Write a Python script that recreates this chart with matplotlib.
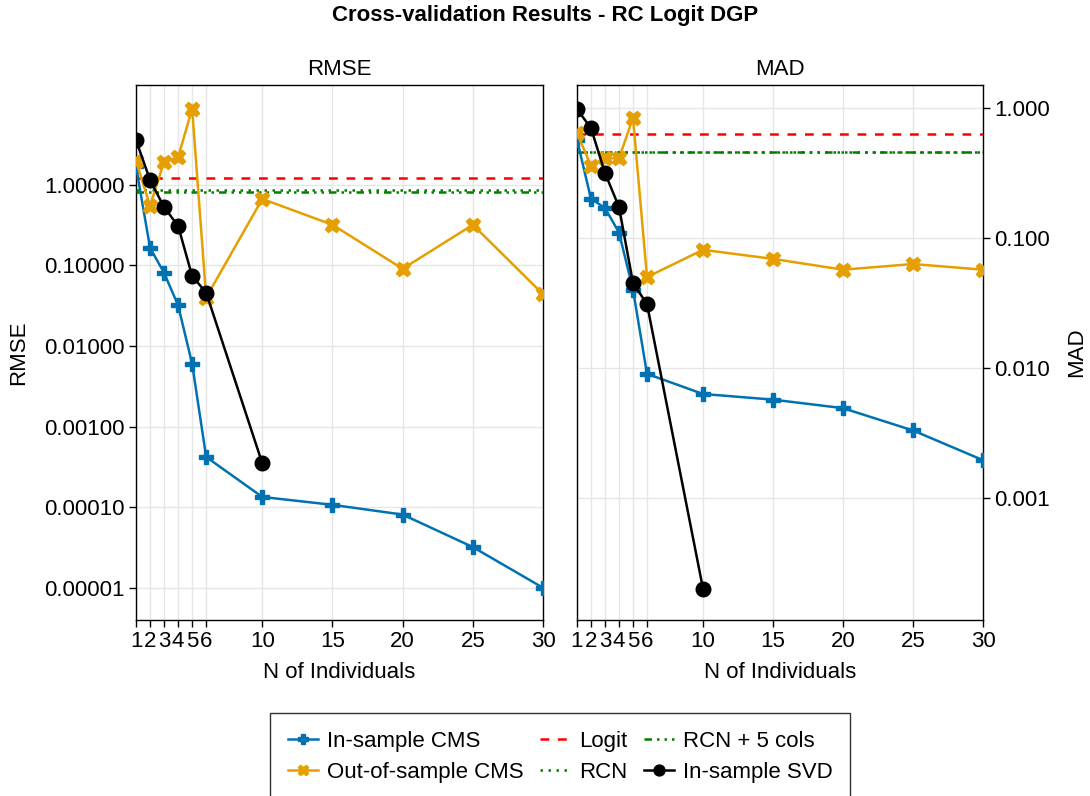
import matplotlib
matplotlib.use("Agg")
import matplotlib.pyplot as plt
from matplotlib.ticker import FixedLocator, FixedFormatter, NullLocator

plt.rcParams['font.family'] = ['Liberation Sans', 'DejaVu Sans']

# ---- data ----
n_ind = [1, 2, 3, 4, 5, 6, 10, 15, 20, 25, 30]
n_svd = [1, 2, 3, 4, 5, 6, 10]

rmse_in_cms = [1.7, 0.166, 0.081, 0.032, 0.006, 0.00042, 0.000134, 0.000107, 0.000081, 0.000032, 0.00001]
rmse_out_cms = [2.0, 0.55, 1.93, 2.2, 8.8, 0.04, 0.67, 0.32, 0.091, 0.32, 0.044]
rmse_svd = [3.6, 1.15, 0.53, 0.31, 0.074, 0.046, 0.00035]
rmse_logit = 1.22
rmse_rcn = 0.86
rmse_rcn5 = 0.82

mad_in_cms = [0.57, 0.2, 0.17, 0.11, 0.04, 0.009, 0.0063, 0.0057, 0.0049, 0.0033, 0.00195]
mad_out_cms = [0.64, 0.36, 0.41, 0.41, 0.84, 0.05, 0.081, 0.069, 0.057, 0.063, 0.057]
mad_svd = [0.98, 0.70, 0.316, 0.173, 0.045, 0.031, 0.0002]
mad_logit = 0.63
mad_rcn = 0.46
mad_rcn5 = 0.46

xticks = [1, 2, 3, 4, 5, 6, 10, 15, 20, 25, 30]
rmse_ticks = [1.0, 0.1, 0.01, 0.001, 0.0001, 0.00001]
rmse_ticklabels = ["1.00000", "0.10000", "0.01000", "0.00100", "0.00010", "0.00001"]
mad_ticks = [1.0, 0.1, 0.01, 0.001]
mad_ticklabels = ["1.000", "0.100", "0.010", "0.001"]

BLUE = "#0072B2"
ORANGE = "#E69F00"
RED = "#FF0000"
GREEN = "#008000"
FS = 16

fig = plt.figure(figsize=(10.9, 7.96), dpi=100)
W, H = 1090, 796

def mkax(x0, x1, y0, y1):
    return fig.add_axes([x0 / W, 1 - y1 / H, (x1 - x0) / W, (y1 - y0) / H])

ax1 = mkax(136, 543, 85, 620)
ax2 = mkax(577, 983, 85, 620)

lw = 1.8
ms = 10.5

def draw(ax, in_cms, out_cms, svd, logit, rcn, rcn5):
    h1, = ax.plot(n_ind, in_cms, color=BLUE, lw=lw, marker='P', ms=ms, mec=BLUE, label="In-sample CMS", zorder=4)
    h2, = ax.plot(n_ind, out_cms, color=ORANGE, lw=lw, marker='X', ms=ms, mec=ORANGE, label="Out-of-sample CMS", zorder=4)
    h3 = ax.axhline(logit, color=RED, lw=lw, ls=(0, (3.5, 3.5)), label="Logit", zorder=3)
    h4 = ax.axhline(rcn, color=GREEN, lw=lw, ls=(0, (1, 2.2)), label="RCN", zorder=3)
    h5 = ax.axhline(rcn5, color=GREEN, lw=lw, ls=(0, (3, 2, 1, 2, 1, 2)), label="RCN + 5 cols", zorder=3)
    h6, = ax.plot(n_svd, svd, color='black', lw=lw, marker='o', ms=ms, label="In-sample SVD", zorder=5)
    ax.set_yscale('log')
    ax.set_xlim(1, 30)
    ax.xaxis.set_major_locator(FixedLocator(xticks))
    ax.set_xticklabels([str(t) for t in xticks])
    ax.grid(True, color='#e6e6e6', lw=1.0, zorder=0)
    ax.set_axisbelow(True)
    ax.tick_params(labelsize=FS, length=5, width=1, direction='out', pad=3)
    ax.set_xlabel("N of Individuals", fontsize=FS, labelpad=7)
    for s in ax.spines.values():
        s.set_linewidth(1)
    return [h1, h2, h3, h4, h5, h6]

handles = draw(ax1, rmse_in_cms, rmse_out_cms, rmse_svd, rmse_logit, rmse_rcn, rmse_rcn5)
draw(ax2, mad_in_cms, mad_out_cms, mad_svd, mad_logit, mad_rcn, mad_rcn5)

# left axis y
ax1.set_ylim(10 ** (-5.4), 10 ** 1.24)
ax1.yaxis.set_major_locator(FixedLocator(rmse_ticks))
ax1.yaxis.set_major_formatter(FixedFormatter(rmse_ticklabels))
ax1.yaxis.set_minor_locator(NullLocator())
ax1.set_ylabel("RMSE", fontsize=FS, labelpad=11)
ax1.set_title("RMSE", fontsize=FS, pad=7)

# right axis y
ax2.set_ylim(10 ** (-3.94), 10 ** 0.177)
ax2.yaxis.set_major_locator(FixedLocator(mad_ticks))
ax2.yaxis.set_major_formatter(FixedFormatter(mad_ticklabels))
ax2.yaxis.set_minor_locator(NullLocator())
ax2.yaxis.tick_right()
ax2.yaxis.set_label_position('right')
ax2.set_ylabel("MAD", fontsize=FS, labelpad=12)
ax2.set_title("MAD", fontsize=FS, pad=7)

fig.suptitle("Cross-validation Results - RC Logit DGP", fontsize=FS, fontweight='bold', y=1 - 15 / H, va='center')

leg = fig.legend(handles=handles, loc='upper center', bbox_to_anchor=(560 / W, 1 - 713 / H),
                 ncol=3, fontsize=FS, frameon=True, fancybox=False, edgecolor='black',
                 handlelength=1.35, handletextpad=0.4, columnspacing=0.75, labelspacing=0.45,
                 borderpad=0.8, borderaxespad=0.0, markerscale=0.75)
leg.get_frame().set_linewidth(1.0)

fig.savefig("out.png", dpi=100)
